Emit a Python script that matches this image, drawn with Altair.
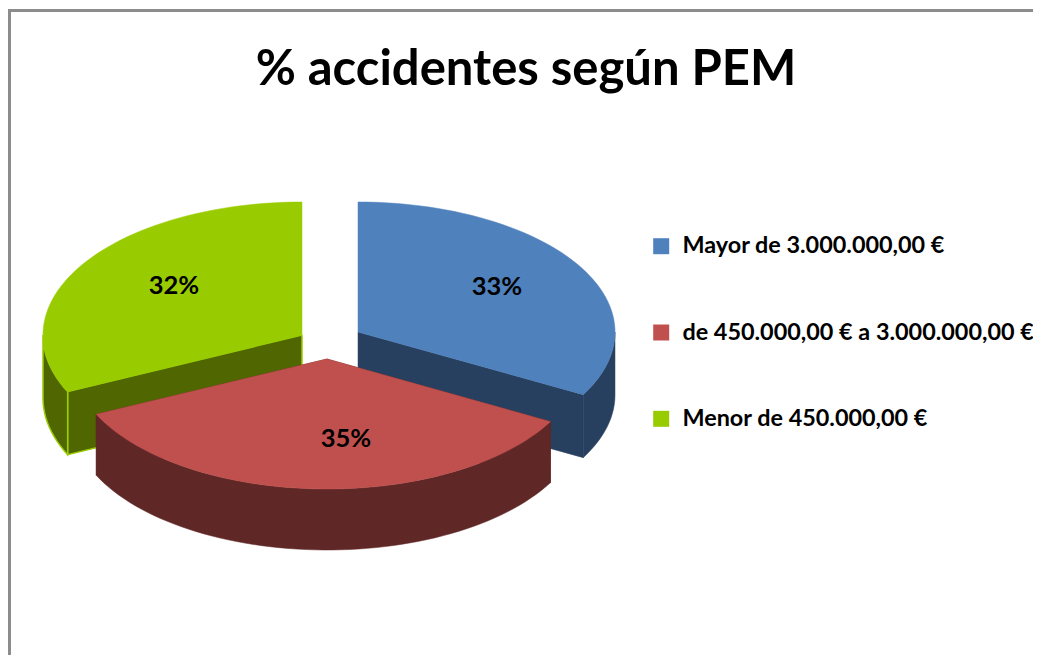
import math
import altair as alt
import pandas as pd

# Data
categories = ["Mayor de 3.000.000,00 €", "de 450.000,00 € a 3.000.000,00 €", "Menor de 450.000,00 €"]
percent = [33, 35, 32]
labels = ["33%", "35%", "32%"]

# Styling
top_colors = ["#4F81BD", "#C0504D", "#99CC00"]
side_colors = ["#28405F", "#602727", "#506600"]
edge_colors = ["#28405F", "#602727", "#99CC00"]

# Geometry of the exploded, tilted pie, in page pixels
centre_x = [358, 327, 302]
centre_y = [332, 359, 335]
radius_x = [257, 255, 259]
radius_y = [130, 130, 133]
depth = [63, 61, 63]
label_x = [497, 346, 174]
label_y = [287, 439, 286]

W, H = 1025, 647
X = alt.X("x:Q", axis=None, scale=alt.Scale(domain=[8, 1033], nice=False, zero=False))
Y = alt.Y("y:Q", axis=None, scale=alt.Scale(domain=[655, 8], nice=False, zero=False))


def ring(i, a, b, dy=0):
    n = max(2, int(abs(b - a) / 2))
    return [(centre_x[i] + radius_x[i] * math.sin(math.radians(a + (b - a) * k / n)),
             centre_y[i] + dy - radius_y[i] * math.cos(math.radians(a + (b - a) * k / n)))
            for k in range(n + 1)]


def polygon(points, fill, stroke=None, sw=0.0):
    pts = points + points[:1]
    df = pd.DataFrame({"x": [p[0] for p in pts], "y": [p[1] for p in pts], "i": range(len(pts))})
    return alt.Chart(df).mark_line(fill=fill, stroke=stroke or fill, strokeWidth=sw or 0.5,
                                   interpolate="linear", clip=False).encode(x=X, y=Y, order="i:Q")


starts = []
acc = 0.0
total = sum(percent)
for p in percent:
    starts.append(acc)
    acc += 360.0 * p / total
ends = starts[1:] + [360.0]

faces = []
# the legend-carrying layer sits under everything else
legend_df = pd.DataFrame({"cat": categories, "x": label_x, "y": label_y})
legend_layer = alt.Chart(legend_df).mark_square(size=1).encode(
    x=X, y=Y,
    color=alt.Color("cat:N",
                    scale=alt.Scale(domain=categories, range=top_colors),
                    legend=alt.Legend(title=None, orient="none", legendX=641.5, legendY=226.5,
                                      symbolType="square", symbolSize=256, symbolStrokeWidth=0,
                                      symbolOpacity=1, labelFont="Lato", labelFontWeight="bold",
                                      labelFontSize=23.4, labelColor="#000000", labelLimit=500,
                                      labelOffset=9.5, rowPadding=61.3, padding=0)),
)
faces.append(legend_layer)

for i in [2, 0, 1]:
    a, b = starts[i], ends[i]
    apex = (centre_x[i], centre_y[i])
    apex_low = (centre_x[i], centre_y[i] + depth[i])
    sw = 1.5 if i == 2 else 0.5
    # cut faces
    for ang in (a, b):
        e = ring(i, ang, ang)[0]
        if 90 < ang < 270:
            faces.append(polygon([apex, e, (e[0], e[1] + depth[i]), apex_low], side_colors[i], edge_colors[i], sw))
    # rim, only where it faces the viewer
    lo, hi = max(a, 90), min(b, 270)
    if lo < hi:
        rim = ring(i, lo, hi) + ring(i, hi, lo, depth[i])
        faces.append(polygon(rim, side_colors[i], edge_colors[i], sw))
    # top
    faces.append(polygon([apex] + ring(i, a, b), top_colors[i]))

text_df = pd.DataFrame({"x": label_x, "y": label_y, "t": labels})
text_layer = alt.Chart(text_df).mark_text(font="Lato", fontWeight="bold", fontSize=25.5, color="#000000").encode(
    x=X, y=Y, text="t:N")

border_color = "#8C8C8C"
border_top = alt.Chart(pd.DataFrame({"x": [8], "x2": [1033], "y": [10.5]})).mark_rule(
    color=border_color, strokeWidth=3).encode(x=X, x2="x2:Q", y=Y)
border_left = alt.Chart(pd.DataFrame({"x": [9.5], "y": [9], "y2": [655]})).mark_rule(
    color=border_color, strokeWidth=3).encode(x=X, y=Y, y2="y2:Q")

chart = alt.layer(*faces, text_layer, border_top, border_left).properties(
    width=W, height=H, padding=0, autosize=alt.AutoSizeParams(type="none"),
    background="white",
    title=alt.TitleParams("% accidentes según PEM", font="Lato", fontWeight="bold", fontSize=49,
                          color="#000000", anchor="middle", orient="top", baseline="middle",
                          dy=111.5, dx=5.5, offset=0),
).configure_view(stroke=None)

chart.save("out.html", embed_options={"renderer": "svg", "actions": False})
